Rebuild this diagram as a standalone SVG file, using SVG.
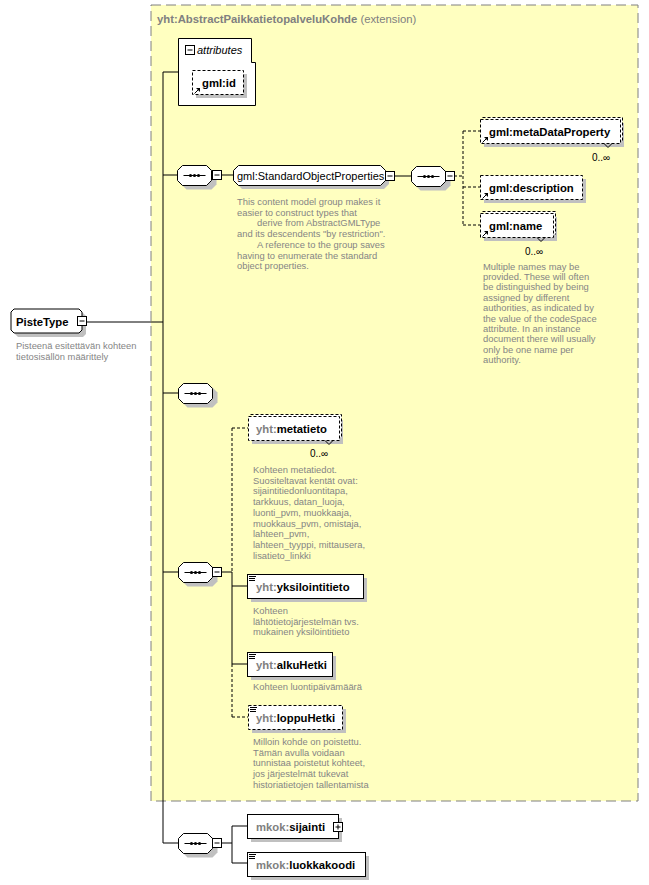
<svg xmlns="http://www.w3.org/2000/svg" xmlns:xlink="http://www.w3.org/1999/xlink" width="649" height="885" viewBox="0 0 649 885">
<style>
.name{font-family:"Liberation Sans",Arial,sans-serif;font-size:11.3px;font-weight:bold;fill:#000}
.pre{fill:#808080}
.norm{font-family:"Liberation Sans",Arial,sans-serif;font-size:11px;fill:#000}
.desc{font-family:"Liberation Sans",Arial,sans-serif;font-size:9.4px;fill:#858585}
.occ{font-family:"Liberation Sans",Arial,sans-serif;font-size:10px;fill:#000}
.box{fill:#fff;stroke:#000;stroke-width:1}
.dbox{fill:#fff;stroke:#000;stroke-width:1;stroke-dasharray:3 2}
.shadow{fill:#c0c0c0;stroke:none}
.ln{fill:none;stroke:#000;stroke-width:1}
.dln{fill:none;stroke:#000;stroke-width:1;stroke-dasharray:3 2}
</style>
<defs>
<g id="seq">
<path class="shadow" d="M9,4 H34 L39,9 V19 L34,24 H9 L4,19 V9 Z"/>
<path class="box" d="M5,0 H29 L34,5 V15 L29,20 H5 L0,15 V5 Z"/>
<path class="ln" d="M6,10 H28"/>
<circle cx="13" cy="10" r="1.6"/><circle cx="17" cy="10" r="1.6"/><circle cx="21" cy="10" r="1.6"/>
</g>
<g id="minus"><rect class="box" x="0" y="0" width="9" height="9"/><path class="ln" d="M2,4.5 H7"/></g>
<g id="plus"><rect class="box" x="0" y="0" width="9" height="9"/><path class="ln" d="M2,4.5 H7 M4.5,2 V7"/></g>
<g id="refarrow"><path class="ln" d="M0.5,5.5 L4.5,1.5"/><path d="M2,0 H6 V4 Z"/></g>
<g id="simple"><path class="ln" d="M0,0.5 H7 M0,2.5 H6 M0,4.5 H6"/></g>
</defs>

<!-- extension area -->
<g id="extension">
<rect x="151" y="5" width="487" height="796" fill="#ffffc0" stroke="#808080" stroke-width="1" stroke-dasharray="10 5"/>
<text x="157" y="23" class="name" style="fill:#808080">yht:AbstractPaikkatietopalveluKohde <tspan style="font-weight:normal">(extension)</tspan></text>
</g>

<!-- connectors -->
<g id="connectors">
<path class="ln" d="M87,322 H163 M163,72 V843 M163,72 H178 M163,175 H177 M221,175 H233 M394,176 H411 M163,393 H178 M163,572 H178 M221,572 H232 M163,843 H178 M221,843 H232"/>
<path class="dln" d="M454,176 H463 M463,131 V225 M463,131 H480 M463,187 H480 M463,225 H480"/>
<path class="dln" d="M232,428 V572 M232,428 H248 M232,664 V717 M232,717 H248"/>
<path class="ln" d="M232,572 V664 M232,586 H247 M232,664 H247 M232,826 V863 M232,826 H247 M232,863 H247"/>
</g>

<!-- PisteType -->
<g id="PisteType">
<path class="shadow" d="M18,313 H83 L86,316 V334 L83,337 H18 L15,334 V316 Z"/>
<path class="box" d="M14,309 H79 L82,312 V330 L79,333 H14 L11,330 V312 Z"/>
<text x="16" y="326" class="name">PisteType</text>
<use xlink:href="#minus" x="77.5" y="316.5"/>
<text class="desc" x="16" y="348.5">Pisteenä esitettävän kohteen</text>
<text class="desc" x="16" y="359.5">tietosisällön määrittely</text>
</g>

<!-- attributes -->
<g id="attributes">
<path class="box" d="M178.5,38.5 H251.5 V62.5 H255.5 V105.5 H178.5 Z"/>
<use xlink:href="#minus" x="185.5" y="45.5"/>
<text x="197" y="54" class="norm" font-style="italic">attributes</text>
</g>
<g id="gml-id">
<rect class="shadow" x="196" y="74" width="51" height="24"/>
<rect class="dbox" x="192.5" y="70.5" width="51" height="24"/>
<text x="202" y="87" class="name">gml:id</text>
<use xlink:href="#refarrow" x="194" y="88"/>
</g>

<!-- sequence 1 -->
<g id="seq1">
<use xlink:href="#seq" x="177.5" y="165.5"/>
<use xlink:href="#minus" x="212.5" y="170.5"/>
</g>
<g id="StandardObjectProperties">
<path class="shadow" d="M242,169 H384 L389,174 V184 L384,189 H242 L237,184 V174 Z"/>
<path class="box" d="M238.5,165.5 H380.5 L385.5,170.5 V180.5 L380.5,185.5 H238.5 L233.5,180.5 V170.5 Z"/>
<text x="237" y="180" class="norm">gml:StandardObjectProperties</text>
<use xlink:href="#minus" x="385.5" y="171.5"/>
<text class="desc" x="237" y="205">This content model group makes it</text>
<text class="desc" x="237" y="215.7">easier to construct types that</text>
<text class="desc" x="257" y="226.4">derive from AbstractGMLType</text>
<text class="desc" x="237" y="237.1">and its descendents "by restriction".</text>
<text class="desc" x="257" y="247.8">A reference to the group saves</text>
<text class="desc" x="237" y="258.5">having to enumerate the standard</text>
<text class="desc" x="237" y="269.2">object properties.</text>
</g>

<!-- sequence 2 -->
<g id="seq2">
<use xlink:href="#seq" x="411.5" y="166.5"/>
<use xlink:href="#minus" x="445.5" y="171.5"/>
</g>
<g id="gml-metaDataProperty">
<rect class="shadow" x="484" y="123" width="140" height="24"/>
<path class="dbox" d="M482.5,117.5 H622.5 V140.5"/>
<rect class="dbox" x="480.5" y="119.5" width="140" height="24"/>
<path class="ln" d="M604,143.5 L608,147.5 L612,143.5"/>
<text x="489" y="136" class="name">gml:metaDataProperty</text>
<use xlink:href="#refarrow" x="482" y="137"/>
<text x="592" y="161" class="occ">0..∞</text>
</g>
<g id="gml-description">
<rect class="shadow" x="484" y="179" width="102" height="24"/>
<rect class="dbox" x="480.5" y="175.5" width="102" height="24"/>
<text x="489" y="192" class="name">gml:description</text>
<use xlink:href="#refarrow" x="482" y="193"/>
</g>
<g id="gml-name">
<rect class="shadow" x="484" y="217" width="73" height="24"/>
<path class="dbox" d="M482.5,211.5 H555.5 V234.5"/>
<rect class="dbox" x="480.5" y="213.5" width="73" height="24"/>
<path class="ln" d="M537,237.5 L541,241.5 L545,237.5"/>
<text x="489" y="230" class="name">gml:name</text>
<use xlink:href="#refarrow" x="482" y="231"/>
<text x="525" y="255" class="occ">0..∞</text>
<text class="desc" x="483" y="269.5">Multiple names may be</text>
<text class="desc" x="483" y="279.9">provided.  These will often</text>
<text class="desc" x="483" y="290.3">be distinguished by being</text>
<text class="desc" x="483" y="300.7">assigned by different</text>
<text class="desc" x="483" y="311.1">authorities, as indicated by</text>
<text class="desc" x="483" y="321.5">the value of the codeSpace</text>
<text class="desc" x="483" y="331.9">attribute.  In an instance</text>
<text class="desc" x="483" y="342.3">document there will usually</text>
<text class="desc" x="483" y="352.7">only be one name per</text>
<text class="desc" x="483" y="363.1">authority.</text>
</g>

<!-- sequence 3 (empty) -->
<g id="seq3">
<use xlink:href="#seq" x="178.5" y="383.5"/>
</g>

<!-- sequence 4 -->
<g id="seq4">
<use xlink:href="#seq" x="178.5" y="562.5"/>
<use xlink:href="#minus" x="212.5" y="567.5"/>
</g>
<g id="yht-metatieto">
<rect class="shadow" x="252" y="420" width="91" height="24"/>
<path class="dbox" d="M250.5,414.5 H341.5 V437.5"/>
<rect class="dbox" x="248.5" y="416.5" width="91" height="24"/>
<path class="ln" d="M325,440.5 L329,444.5 L333,440.5"/>
<text x="256" y="433" class="name"><tspan class="pre">yht:</tspan>metatieto</text>
<text x="310" y="457" class="occ">0..∞</text>
<text class="desc" x="253" y="473">Kohteen metatiedot.</text>
<text class="desc" x="253" y="483.7">Suositeltavat kentät ovat:</text>
<text class="desc" x="253" y="494.4">sijaintitiedonluontitapa,</text>
<text class="desc" x="253" y="505.1">tarkkuus, datan_luoja,</text>
<text class="desc" x="253" y="515.8">luonti_pvm, muokkaaja,</text>
<text class="desc" x="253" y="526.5">muokkaus_pvm, omistaja,</text>
<text class="desc" x="253" y="537.2">lahteen_pvm,</text>
<text class="desc" x="253" y="547.9">lahteen_tyyppi, mittausera,</text>
<text class="desc" x="253" y="558.6">lisatieto_linkki</text>
</g>
<g id="yht-yksilointitieto">
<rect class="shadow" x="251" y="578" width="116" height="24"/>
<rect class="box" x="247.5" y="574.5" width="116" height="24"/>
<use xlink:href="#simple" x="249" y="576"/>
<text x="256" y="591" class="name"><tspan class="pre">yht:</tspan>yksilointitieto</text>
<text class="desc" x="253" y="614">Kohteen</text>
<text class="desc" x="253" y="624.7">lähtötietojärjestelmän  tvs.</text>
<text class="desc" x="253" y="635.4">mukainen yksilöintitieto</text>
</g>
<g id="yht-alkuHetki">
<rect class="shadow" x="251" y="656" width="85" height="24"/>
<rect class="box" x="247.5" y="652.5" width="85" height="24"/>
<use xlink:href="#simple" x="249" y="654"/>
<text x="256" y="669" class="name"><tspan class="pre">yht:</tspan>alkuHetki</text>
<text class="desc" x="253" y="690">Kohteen luontipäivämäärä</text>
</g>
<g id="yht-loppuHetki">
<rect class="shadow" x="252" y="709" width="94" height="24"/>
<rect class="dbox" x="248.5" y="705.5" width="94" height="24"/>
<use xlink:href="#simple" x="250" y="707"/>
<text x="256" y="722" class="name"><tspan class="pre">yht:</tspan>loppuHetki</text>
<text class="desc" x="253" y="745">Milloin kohde on poistettu.</text>
<text class="desc" x="253" y="755.7">Tämän avulla voidaan</text>
<text class="desc" x="253" y="766.4">tunnistaa poistetut kohteet,</text>
<text class="desc" x="253" y="777.1">jos järjestelmät tukevat</text>
<text class="desc" x="253" y="787.8">historiatietojen tallentamista</text>
</g>

<!-- sequence 5 -->
<g id="seq5">
<use xlink:href="#seq" x="178.5" y="833.5"/>
<use xlink:href="#minus" x="212.5" y="838.5"/>
</g>
<g id="mkok-sijainti">
<rect class="shadow" x="251" y="818" width="91" height="24"/>
<rect class="box" x="247.5" y="814.5" width="91" height="24"/>
<text x="256" y="831" class="name"><tspan class="pre">mkok:</tspan>sijainti</text>
<use xlink:href="#plus" x="333.5" y="822.5"/>
</g>
<g id="mkok-luokkakoodi">
<rect class="shadow" x="251" y="856" width="118" height="24"/>
<rect class="box" x="247.5" y="852.5" width="118" height="24"/>
<use xlink:href="#simple" x="249" y="854"/>
<text x="256" y="869" class="name"><tspan class="pre">mkok:</tspan>luokkakoodi</text>
</g>
</svg>
